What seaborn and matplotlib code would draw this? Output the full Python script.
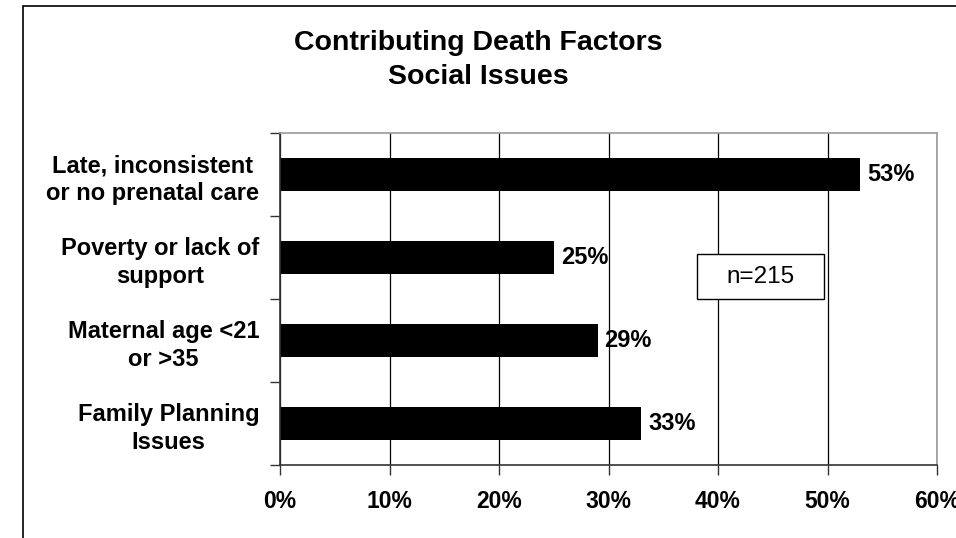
import matplotlib
matplotlib.use("Agg")
import matplotlib.pyplot as plt
from matplotlib.patches import Rectangle
from matplotlib.ticker import FixedLocator, PercentFormatter
import seaborn as sns
import pandas as pd

# Social-issue contributing factors and their share of cases
factors = [
    "Late, inconsistent\nor no prenatal care",
    "Poverty or lack of\nsupport",
    "Maternal age <21\nor >35",
    "Family Planning\nIssues",
]
shares = [53, 25, 29, 33]
x_ticks = [0, 10, 20, 30, 40, 50, 60]
sample_note = "n=215"

df = pd.DataFrame({"factor": factors, "share": shares})

sns.set_theme(style="white")
plt.rcParams["font.family"] = ["Liberation Sans", "DejaVu Sans"]
plt.rcParams["text.color"] = "black"
plt.rcParams["xtick.color"] = "black"
plt.rcParams["ytick.color"] = "black"
plt.rcParams["xtick.labelcolor"] = "black"
plt.rcParams["ytick.labelcolor"] = "black"

fig = plt.figure(figsize=(9.56, 5.38), dpi=100)
ax = fig.add_axes([280 / 956, 1 - 465 / 538, 657 / 956, 332 / 538])

sns.barplot(data=df, x="share", y="factor", orient="h", color="black",
            saturation=1, width=0.4, ax=ax, edgecolor="black", linewidth=0)

ax.set_xlim(0, 60)
ax.set_ylim(3.5, -0.5)
ax.xaxis.set_major_locator(FixedLocator(x_ticks))
ax.xaxis.set_major_formatter(PercentFormatter(decimals=0))
ax.grid(axis="x", color="black", linewidth=0.9)
ax.grid(axis="y", visible=False)
ax.set_axisbelow(True)
ax.set_xlabel("")
ax.set_ylabel("")

# category boundaries carry the y tick marks
ax.yaxis.set_minor_locator(FixedLocator([-0.5, 0.5, 1.5, 2.5, 3.5]))
ax.tick_params(axis="y", which="major", length=0, pad=15)
ax.tick_params(axis="y", which="minor", left=True, length=7, width=1, color="#333333")
ax.tick_params(axis="x", which="major", bottom=True, length=7, width=1,
               color="#333333", pad=11)
for lbl in ax.get_yticklabels():
    lbl.set_fontsize(17)
    lbl.set_fontweight("bold")
    lbl.set_multialignment("center")
    lbl.set_linespacing(1.3)
for lbl in ax.get_xticklabels():
    lbl.set_fontsize(16.5)
    lbl.set_fontweight("bold")

for side in ("top", "right"):
    ax.spines[side].set_color("#9a9a9a")
    ax.spines[side].set_linewidth(1.2)
for side in ("left", "bottom"):
    ax.spines[side].set_color("#333333")
    ax.spines[side].set_linewidth(1.2)

# value labels at the end of each bar
for i, v in enumerate(shares):
    ax.annotate(f"{v}%", xy=(v, i), xytext=(5, 0), textcoords="offset points",
                ha="left", va="center", fontsize=17, fontweight="bold")

# sample size box
ax.add_patch(Rectangle((38.1, 0.96), 11.6, 0.54, facecolor="white",
                       edgecolor="black", linewidth=1.0, zorder=3))
ax.text(43.9, 1.23, sample_note, ha="center", va="center", fontsize=17.5,
        zorder=4)

fig.text(0.5, 1 - 43 / 538, "Contributing Death Factors", ha="center",
         va="center", fontsize=20.5, fontweight="bold")
fig.text(0.5, 1 - 77 / 538, "Social Issues", ha="center", va="center",
         fontsize=20.5, fontweight="bold")

# outer chart frame
fig.patches.append(Rectangle((22.5 / 956, -0.05), 1.0, 0.05 + 1 - 6.5 / 538,
                             transform=fig.transFigure, fill=False,
                             edgecolor="black", linewidth=1.2))

fig.savefig("out.png", dpi=100, facecolor="white")
